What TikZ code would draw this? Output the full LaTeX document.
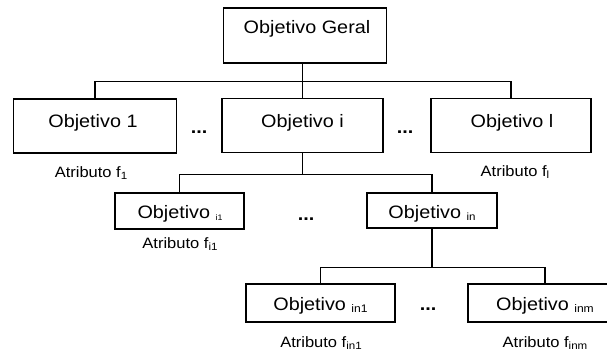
\documentclass[tikz,border=0pt]{standalone}
\usepackage{fontspec}
\setmainfont{Liberation Sans}[FakeStretch=1.1]
\newcommand{\subtx}[2]{{\fontsize{#1}{#1}\selectfont\raisebox{-2pt}{#2}}}
\begin{document}
\begin{tikzpicture}[x=1pt,y=-1pt,
  box/.style={draw, line width=1.3pt, inner sep=0pt},
  lbl/.style={anchor=base, inner sep=0pt, font=\fontsize{18}{20}\selectfont},
  dots/.style={anchor=base, inner sep=0pt, font=\fontsize{18}{20}\selectfont\bfseries},
  attr/.style={anchor=base, inner sep=0pt, font=\fontsize{15}{17}\selectfont},
  conn/.style={line width=1.3pt}]
\useasboundingbox (0,0) rectangle (607,351);
\clip (0,0) rectangle (607,351);
% level 0
\node[box, minimum width=163pt, minimum height=55pt] (top) at (305,35.5) {};
\node[lbl] (topt) at (307,33.5) {Objetivo Geral};
% level 1
\node[box, minimum width=163pt, minimum height=54pt] (o1) at (95,126) {};
\node[lbl] (o1t) at (93,127) {Objetivo 1};
\node[box, minimum width=161pt, minimum height=54pt] (oi) at (302.5,125.5) {};
\node[lbl] (oit) at (302.5,127) {Objetivo i};
\node[box, minimum width=160pt, minimum height=54pt] (ol) at (511,125.5) {};
\node[lbl] (olt) at (512,127) {Objetivo l};
\node[dots] (d1) at (199,133) {...};
\node[dots] (d2) at (405,133) {...};
\node[attr] (a1) at (91,177) {Atributo f\subtx{10.5}{1}};
\node[attr] (al) at (515,176) {Atributo f\subtx{10.5}{l}};
% level 2
\node[box, minimum width=129pt, minimum height=36pt] (oi1) at (179.5,211) {};
\node[lbl] (oi1t) at (180,218) {Objetivo \subtx{8}{i1}};
\node[box, minimum width=130pt, minimum height=35pt] (oin) at (432,210.5) {};
\node[lbl] (oint) at (432,218) {Objetivo \subtx{10.5}{in}};
\node[dots] (d3) at (306,220) {...};
\node[attr] (ai1) at (180,248) {Atributo f\subtx{10.5}{i1}};
% level 3
\node[box, minimum width=149pt, minimum height=38pt] (oin1) at (320.5,303) {};
\node[lbl] (oin1t) at (320.5,310) {Objetivo \subtx{11}{in1}};
\node[box, minimum width=154pt, minimum height=38pt] (oinm) at (545,303) {};
\node[lbl] (oinmt) at (545,310) {Objetivo \subtx{11}{inm}};
\node[dots] (d4) at (428,310) {...};
\node[attr] (ain1) at (321,347) {Atributo f\subtx{10.5}{in1}};
\node[attr] (ainm) at (545,347) {Atributo f\subtx{10.5}{inm}};
% connectors
\coordinate (j0) at ([yshift=-18pt]oi.north |- top.south);
\draw[conn] (oi.north |- top.south) -- (oi.north);
\draw[conn] (j0) -| (o1.north);
\draw[conn] (j0) -| (ol.north);
\draw[conn] (oi.south) -- ++(0,21.5) -| (oi1.north);
\draw[conn] (oi.south) -- ++(0,21.5) -| (oin.north);
\draw[conn] (oin.south) -- ++(0,39) -| (oin1.north);
\draw[conn] (oin.south) -- ++(0,39) -| (oinm.north);
\end{tikzpicture}
\end{document}
